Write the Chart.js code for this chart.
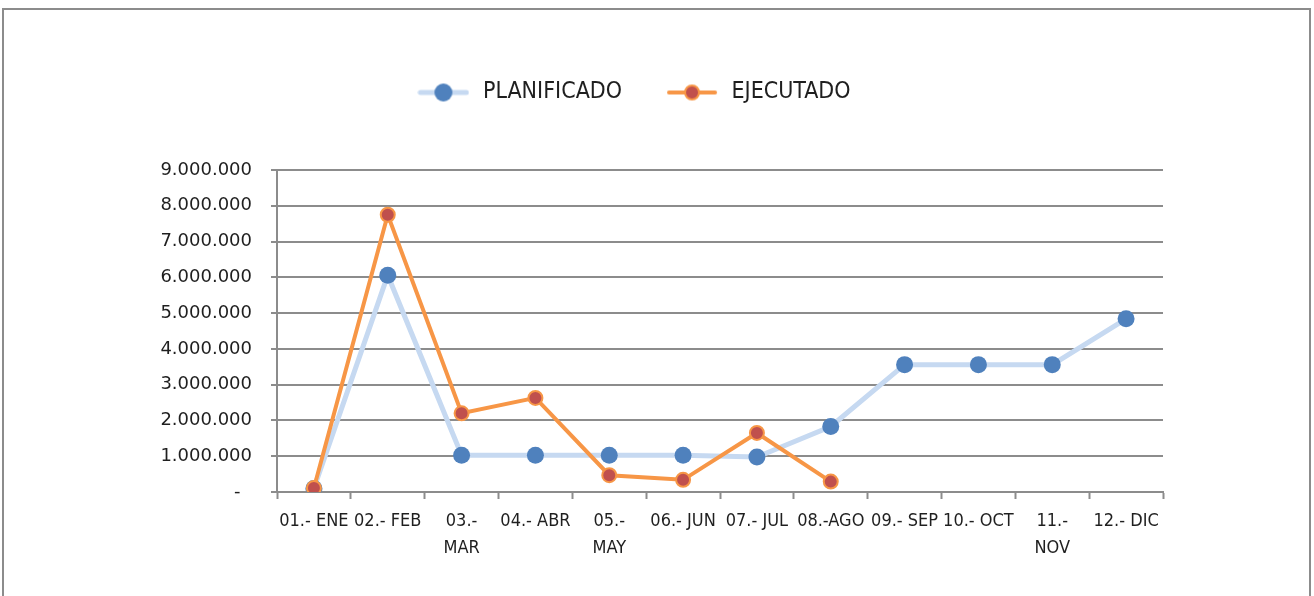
<!DOCTYPE html>
<html>
<head>
<meta charset="utf-8">
<script src="https://cdn.jsdelivr.net/npm/chart.js@4"></script>
<style>
    html, body { margin: 0; padding: 0; background: #fff; }
    #wrap { position: relative; width: 1314px; height: 596px; overflow: hidden; }
    #frame { position: absolute; left: 2px; top: 8px; width: 1305px; height: 620px; border: 2px solid #8c8c8c; }
    canvas { position: absolute; left: 0; top: 0; }
</style>
</head>
<body>
<div id="wrap">
    <div id="frame"></div>
    <canvas id="chart" width="1314" height="596"></canvas>
</div>
<script>
const months = ['01.- ENE', '02.- FEB', ['03.-', 'MAR'], '04.- ABR', ['05.-', 'MAY'], '06.- JUN',
    '07.- JUL', '08.-AGO', '09.- SEP', '10.- OCT', ['11.-', 'NOV'], '12.- DIC'];
const planificado = [100000, 6060000, 1030000, 1030000, 1030000, 1030000, 980000, 1830000, 3560000, 3560000, 3560000, 4840000];
const ejecutado = [110000, 7750000, 2200000, 2630000, 470000, 340000, 1650000, 290000, null, null, null, null];

const narrow = "'Liberation Sans Narrow', 'DejaVu Sans Condensed', sans-serif";
const textColor = '#1f1f1f';
const gridColor = '#8c8c8c';

// little line+dot pictures for the legend
function legendMark(lineColor, lineWidth, dotColor, dotBorder, r) {
    const c = document.createElement('canvas');
    c.width = 52;
    c.height = 22;
    const ctx = c.getContext('2d');
    ctx.strokeStyle = lineColor;
    ctx.lineWidth = lineWidth;
    ctx.lineCap = 'round';
    ctx.beginPath();
    ctx.moveTo(3, 11);
    ctx.lineTo(49, 11);
    ctx.stroke();
    ctx.beginPath();
    ctx.arc(26, 11, r, 0, Math.PI * 2);
    ctx.fillStyle = dotColor;
    ctx.fill();
    if (dotBorder) {
        ctx.lineWidth = 2;
        ctx.strokeStyle = dotBorder;
        ctx.stroke();
    }
    return c;
}

const marks = [
    legendMark('#c6d9f1', 5, '#4f81bd', null, 9),
    legendMark('#f79646', 4, '#c0504d', '#f79646', 7)
];

function formatMiles(v) {
    if (v === 0) return '-  ';
    return String(Math.round(v)).replace(/\B(?=(\d{3})+(?!\d))/g, '.');
}

const ctx = document.getElementById('chart').getContext('2d');
new Chart(ctx, {
    type: 'line',
    data: {
        labels: months,
        datasets: [
            {
                label: 'PLANIFICADO',
                data: planificado,
                borderColor: '#c6d9f1',
                backgroundColor: '#4f81bd',
                borderWidth: 5,
                pointRadius: 8.5,
                pointBorderWidth: 0,
                pointBackgroundColor: '#4f81bd',
                tension: 0,
                order: 1
            },
            {
                label: 'EJECUTADO',
                data: ejecutado,
                borderColor: '#f79646',
                backgroundColor: '#c0504d',
                borderWidth: 4,
                pointRadius: 7,
                pointBorderWidth: 2,
                pointBorderColor: '#f79646',
                pointBackgroundColor: '#c0504d',
                tension: 0,
                spanGaps: false,
                order: 0
            }
        ]
    },
    options: {
        responsive: false,
        animation: false,
        layout: {
            padding: { top: 39, left: 103, right: 151, bottom: 0 }
        },
        plugins: {
            tooltip: { enabled: false },
            legend: {
                display: true,
                position: 'top',
                weight: 1000,
                labels: {
                    usePointStyle: true,
                    pointStyleWidth: 56,
                    padding: 42,
                    color: textColor,
                    font: { family: narrow, size: 23 },
                    sort: (a, b) => a.datasetIndex - b.datasetIndex,
                    generateLabels: function (chart) {
                        const items = Chart.defaults.plugins.legend.labels.generateLabels(chart);
                        items.forEach(it => { it.pointStyle = marks[it.datasetIndex]; });
                        return items;
                    }
                }
            },
            // empty title used as a spacer between legend and plot
            title: {
                display: true,
                text: ' ',
                weight: 500,
                font: { size: 10, lineHeight: 1 },
                padding: { top: 0, bottom: 46 }
            }
        },
        scales: {
            x: {
                offset: true,
                grid: {
                    display: true,
                    drawOnChartArea: false,
                    drawTicks: true,
                    tickLength: 7,
                    tickWidth: 2,
                    tickColor: gridColor,
                    offset: true
                },
                border: { color: gridColor, width: 2 },
                ticks: {
                    autoSkip: false,
                    maxRotation: 0,
                    minRotation: 0,
                    padding: 9,
                    color: textColor,
                    font: { family: narrow, size: 18, lineHeight: 1.5 }
                },
                afterFit: function (scale) {
                    scale.height = 104;
                }
            },
            y: {
                min: 0,
                max: 9000000,
                ticks: {
                    stepSize: 1000000,
                    padding: 19,
                    color: textColor,
                    font: { family: "'DejaVu Sans', sans-serif", size: 18 },
                    callback: function (v) { return formatMiles(v); }
                },
                grid: {
                    color: gridColor,
                    lineWidth: 2,
                    tickLength: 6,
                    drawTicks: true
                },
                border: { color: gridColor, width: 2 },
                afterFit: function (scale) {
                    scale.width = 174;
                }
            }
        }
    }
});
</script>
</body>
</html>
